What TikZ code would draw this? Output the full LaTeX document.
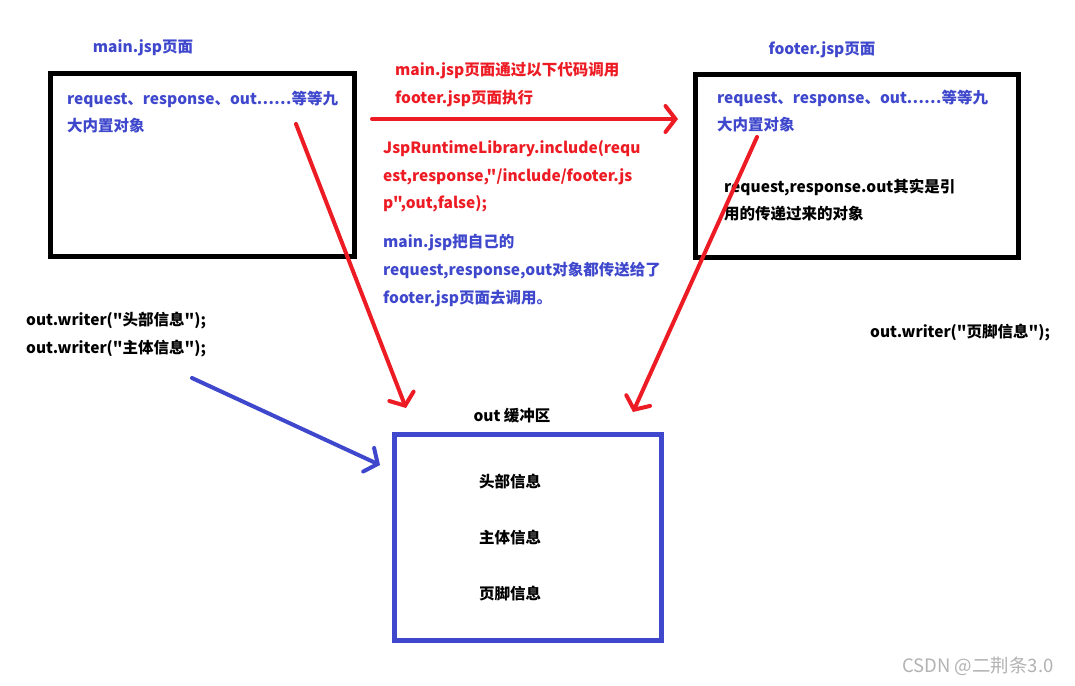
\documentclass[tikz,border=0pt]{standalone}
\usepackage{fontspec}
\newfontfamily\jspfont{Noto Sans CJK SC}
\usepackage{xcolor}
\usetikzlibrary{arrows.meta}
\definecolor{penblue}{HTML}{3F48CC}
\definecolor{penred}{HTML}{ED1C24}

\begin{document}
\begin{tikzpicture}[x=1pt,y=-1pt,
  txt/.style={inner sep=0pt,align=left,font=\jspfont\fontsize{15.5}{27.6}\selectfont\bfseries},
  frame/.style={draw,line width=5pt,inner sep=0pt},
  arr/.style={line width=4pt,line cap=round,-{Straight Barb[length=10pt,width=26pt,line cap=round]}}]
  \useasboundingbox (0,0) rectangle (1075,685);
  %% the two jsp pages
  \node[frame,minimum width=304,minimum height=183] (mainbox) at (202.5,165) {};
  \node[frame,minimum width=323,minimum height=183] (footbox) at (857,166) {};
  \node[txt,penblue] (mainlbl) at (143,48) {main.jsp页面};
  \node[txt,penblue] (footlbl) at (822,50) {footer.jsp页面};
  \node[txt,penblue,anchor=west] (mainobj) at (67,112)
    {request、response、out……等等九\\大内置对象};
  \node[txt,penblue,anchor=west] (footobj) at (717,111)
    {request、response、out……等等九\\大内置对象};
  \node[txt,anchor=west] (footref) at (724,200)
    {request,response.out其实是引\\用的传递过来的对象};
  %% include call in the middle
  \node[txt,penred,anchor=west] (calltxt) at (395,84.5)
    {main.jsp页面通过以下代码调用\\footer.jsp页面执行};
  \node[txt,penred,anchor=west] (codetxt) at (383,176.5)
    {JspRuntimeLibrary.include(requ\\est,response,"/include/footer.js\\p",out,false);};
  \node[txt,penblue,anchor=west] (passtxt) at (383,270.5)
    {main.jsp把自己的\\request,response,out对象都传送给了\\footer.jsp页面去调用。};
  %% writer calls
  \node[txt,anchor=west] (headwr) at (26,334.5)
    {out.writer("头部信息");\\out.writer("主体信息");};
  \node[txt,anchor=west] (footwr) at (870,333) {out.writer("页脚信息");};
  %% out buffer
  \node[frame,draw=penblue,minimum width=267,minimum height=206] (buf) at (528,537.5) {};
  \node[txt] (buflbl) at (512,416) {out 缓冲区};
  \node[txt] (head) at (510,482) {头部信息};
  \node[txt] (body) at (510,538) {主体信息};
  \node[txt] (foot) at (510,594) {页脚信息};
  %% arrow ends
  \coordinate (incfrom) at (372,119);
  \coordinate (incto) at (678,119);
  \coordinate (mainfrom) at (296,124);
  \coordinate (mainto) at (406,408);
  \coordinate (footfrom) at (757,137);
  \coordinate (footto) at (633,412);
  \coordinate (wrfrom) at (192,378);
  \coordinate (wrto) at (380,465);
  \draw[arr,penred] (incfrom) -- (incto);
  \draw[arr,penred] (mainfrom) -- (mainto);
  \draw[arr,penred] (footfrom) -- (footto);
  \draw[arr,penblue] (wrfrom) -- (wrto);
  %% watermark
  \node[inner sep=0pt,gray!60,font=\jspfont\fontsize{18.5}{18.5}\selectfont] (mark) at (978,666) {CSDN @二荆条3.0};
\end{tikzpicture}
\end{document}
